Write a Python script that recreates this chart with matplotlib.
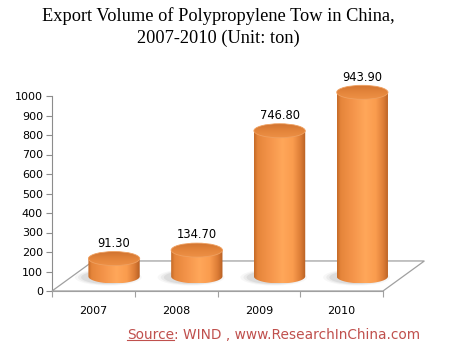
import numpy as np
import matplotlib
matplotlib.use("Agg")
import matplotlib.pyplot as plt
from matplotlib.patches import Polygon, Ellipse
from matplotlib.colors import LinearSegmentedColormap

years = ["2007", "2008", "2009", "2010"]
volumes = [91.30, 134.70, 746.80, 943.90]
yticks = [0, 100, 200, 300, 400, 500, 600, 700, 800, 900, 1000]
title = "Export Volume of Polypropylene Tow in China,\n2007-2010 (Unit: ton)"
source_word = "Source"
source_rest = ": WIND , www.ResearchInChina.com"

W, H = 451, 353
fig = plt.figure(figsize=(W / 100, H / 100), dpi=100)

# axes placed so that y=0 -> px 291, y=1000 -> px 96, x=0 -> px 52, x=4 -> px 383
ymin, ymax = -60, 1150
xmin, xmax = -0.2, 4.8
py0, pyscale = 291, 0.195
px0, pxscale = 52, 82.75
bottom_px = py0 - ymin * pyscale
top_px = py0 - ymax * pyscale
left_px = px0 + xmin * pxscale
right_px = px0 + xmax * pxscale
ax = fig.add_axes([left_px / W, (H - bottom_px) / H,
                   (right_px - left_px) / W, (bottom_px - top_px) / H])
ax.set_xlim(xmin, xmax)
ax.set_ylim(ymin, ymax)

grey = "#A0A0A0"
# floor depth (data units)
ddx, ddy = 0.5, 154
n = len(years)
floor = Polygon([[0, 0], [n, 0], [n + ddx, ddy], [ddx, ddy]], closed=True,
                facecolor="white", edgecolor=grey, lw=0.9, zorder=1)
ax.add_patch(floor)

# cylinder geometry
half_w = 0.31
eh = 36
base = 75
cmap = LinearSegmentedColormap.from_list("cyl", [
    (0.0, "#C46A28"), (0.07, "#E5853A"), (0.3, "#F4944A"), (0.55, "#FFA75A"),
    (0.75, "#FA9C4E"), (0.9, "#DC7C36"), (1.0, "#B65F22")])
grad = cmap(np.linspace(0, 1, 256))[None, :, :]
tcmap = LinearSegmentedColormap.from_list("top", ["#CF7230", "#E3843A", "#EE9146"])
tgrad = tcmap(np.linspace(0, 1, 256))[:, None, :]

t = np.linspace(np.pi, 2 * np.pi, 60)
for i, v in enumerate(volumes):
    cx = i + 0.5 + ddx / 2
    top = base + v
    # shadow, a bit towards the left
    for k, a in zip([1.3, 1.18, 1.06], [0.06, 0.09, 0.13]):
        ax.add_patch(Ellipse((cx - 0.07, base - 5), 2 * half_w * k,
                             2 * eh * k * 0.9, facecolor="#7A7A7A",
                             edgecolor="none", alpha=a, zorder=2))
    # body
    pts = [[cx - half_w, top]]
    pts += [[cx + half_w * np.cos(a), base + eh * np.sin(a)] for a in t]
    pts += [[cx + half_w, top]]
    body = Polygon(pts, closed=True, facecolor="none", edgecolor="none", zorder=3)
    ax.add_patch(body)
    im = ax.imshow(grad, extent=[cx - half_w, cx + half_w, base - eh, top],
                   aspect="auto", zorder=3, interpolation="bilinear")
    im.set_clip_path(body)
    # top
    cap = Ellipse((cx, top), 2 * half_w, 2 * eh, facecolor="none",
                  edgecolor="#EFA060", lw=0.6, zorder=5)
    ax.add_patch(cap)
    im2 = ax.imshow(tgrad, extent=[cx - half_w, cx + half_w, top - eh, top + eh],
                    aspect="auto", zorder=4, interpolation="bilinear")
    im2.set_clip_path(cap)
    ax.annotate(f"{v:.2f}", (cx, top), xytext=(0, 11), textcoords="offset points",
                ha="center", va="center", fontsize=8.3, color="black", zorder=6)

ax.set_xlim(xmin, xmax)
ax.set_ylim(ymin, ymax)

for s in ["top", "right"]:
    ax.spines[s].set_visible(False)
ax.spines["left"].set_position(("data", 0))
ax.spines["left"].set_bounds(0, 1000)
ax.spines["bottom"].set_position(("data", 0))
ax.spines["bottom"].set_bounds(0, n)
ax.spines["left"].set_color("#8C8C8C")
ax.spines["bottom"].set_color(grey)
ax.spines["left"].set_zorder(0.5)

ax.set_yticks(yticks)
ax.set_yticklabels([str(y) for y in yticks])
ax.tick_params(axis="y", length=4.5, width=0.8, color="#8C8C8C", pad=2,
               labelsize=8)
ax.set_xticks(np.arange(n) + 0.5)
ax.set_xticklabels(years)
ax.set_xticks(np.arange(n + 1), minor=True)
ax.tick_params(axis="x", which="major", length=0, pad=11, labelsize=8)
ax.tick_params(axis="x", which="minor", length=4, width=0.8, color=grey)

fig.text(0.483, 1 - 27 / H, title, ha="center", va="center", fontsize=13.2,
         family="Liberation Serif", linespacing=1.3)

src_x = 127 / W
src_y = 1 - 335 / H
src_color = "#C0504D"
t1 = fig.text(src_x, src_y, source_word, ha="left", va="center", fontsize=9.9,
              color=src_color)
fig.canvas.draw()
bb = t1.get_window_extent().transformed(fig.transFigure.inverted())
fig.text(bb.x1, src_y, source_rest, ha="left", va="center", fontsize=9.9,
         color=src_color)
uy = bb.y0 + 2.5 / H
fig.add_artist(plt.Line2D([bb.x0, bb.x1], [uy, uy],
                          transform=fig.transFigure, color=src_color, lw=0.8))

fig.savefig("out.png", dpi=100)
